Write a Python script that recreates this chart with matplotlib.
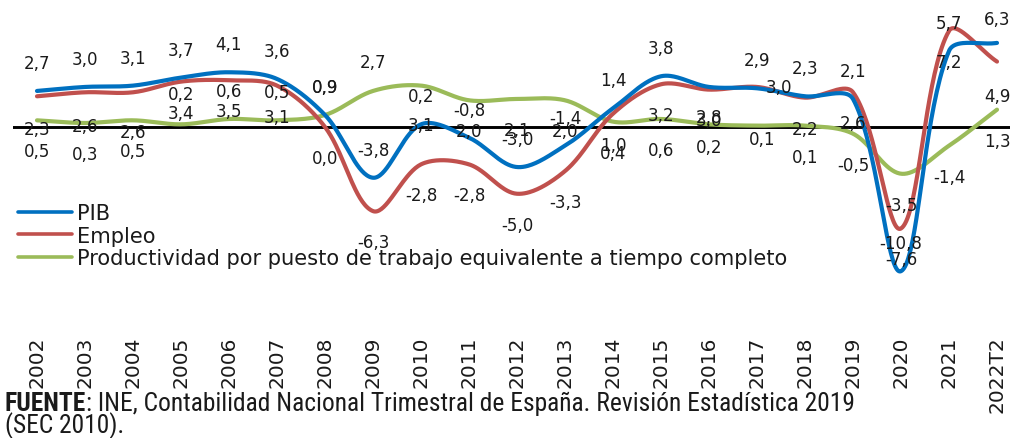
import matplotlib
matplotlib.use('Agg')
import matplotlib.pyplot as plt
from matplotlib import font_manager
from matplotlib.lines import Line2D
import numpy as np

# ---------------- data ----------------
years = ['2002', '2003', '2004', '2005', '2006', '2007', '2008', '2009', '2010',
         '2011', '2012', '2013', '2014', '2015', '2016', '2017', '2018', '2019',
         '2020', '2021', '2022T2']
pib = [2.7, 3.0, 3.1, 3.7, 4.1, 3.6, 0.9, -3.8, 0.2, -0.8, -3.0, -1.4, 1.4, 3.8,
       3.0, 2.9, 2.3, 2.1, -10.8, 5.7, 6.3]
empleo = [2.3, 2.6, 2.6, 3.4, 3.5, 3.1, 0.0, -6.3, -2.8, -2.8, -5.0, -3.3, 1.0, 3.2,
          2.8, 3.0, 2.2, 2.6, -7.6, 7.2, 4.9]
productividad = [0.5, 0.3, 0.5, 0.2, 0.6, 0.5, 0.9, 2.7, 3.1, 2.0, 2.1, 2.0, 0.4, 0.6,
                 0.2, 0.1, 0.1, -0.5, -3.5, -1.4, 1.3]
series_names = ['PIB', 'Empleo',
                'Productividad por puesto de trabajo equivalente a tiempo completo']
source_bold = 'FUENTE'
source_rest = ': INE, Contabilidad Nacional Trimestral de España. Revisión Estadística 2019'
source_line2 = '(SEC 2010).'

# ---------------- style ----------------
W, H = 1010, 439
colors = ['#0070C0', '#C0504D', '#9BBB59']
txt_color = '#1a1a1a'
plt.rcParams['font.family'] = ['DejaVu Sans']

# label offsets in pixels (dx, dy; dy>0 = up) -- default per series + exceptions
def offsets(default, exceptions):
    out = [default] * len(years)
    for k, v in exceptions.items():
        out[years.index(k)] = v
    return out

off_pib = offsets((0, 28), {'2016': (0, -33), '2022T2': (0, 24)})
off_emp = offsets((0, -31), {'2004': (0, -40), '2016': (0, -27), '2017': (22, 0),
                             '2022T2': (0, -34), '2002': (0, -33), '2003': (0, -34)})
off_pro = offsets((0, -31), {'2005': (0, 30), '2006': (0, 28), '2007': (0, 28),
                             '2008': (0, 28), '2009': (0, 29), '2010': (0, -39),
                             '2016': (0, -23), '2017': (5, -13)})

fig = plt.figure(figsize=(W / 100, H / 100), dpi=100)
ax_left, ax_right, ax_top, ax_bot = 13, 1010, 0, 328
ax = fig.add_axes([ax_left / W, (H - ax_bot) / H, (ax_right - ax_left) / W,
                   (ax_bot - ax_top) / H])
x0px, step = 37, 48.0
ax.set_xlim((ax_left - x0px) / step, (ax_right - x0px) / step)
zero_px, ppu = 128, 13.35
ax.set_ylim(-(ax_bot - zero_px) / ppu, (zero_px - ax_top) / ppu)
for s in ax.spines.values():
    s.set_visible(False)
ax.set_yticks([])


def excel_smooth(xs, ys, n=40):
    pts = ax.transData.transform(np.column_stack([xs, ys]))
    N = len(pts)
    out = [pts[0]]
    dist = lambda a, b: float(np.hypot(*(b - a)))
    for i in range(N - 1):
        p0 = pts[max(i - 1, 0)]
        p1 = pts[i]
        p2 = pts[i + 1]
        p3 = pts[min(i + 2, N - 1)]
        d01, d12, d23 = dist(p0, p1), dist(p1, p2), dist(p2, p3)
        c1 = p1 + (p2 - p0) * (d12 / (d01 + d12)) / 3.0
        c2 = p2 - (p3 - p1) * (d12 / (d12 + d23)) / 3.0
        t = np.linspace(0, 1, n)[1:, None]
        seg = ((1 - t) ** 3) * p1 + 3 * ((1 - t) ** 2) * t * c1 + \
            3 * (1 - t) * (t ** 2) * c2 + (t ** 3) * p2
        out.extend(seg)
    return ax.transData.inverted().transform(np.array(out))


xs = np.arange(len(years))
ax.axhline(0, color='black', lw=2.1, zorder=1)

series = [pib, empleo, productividad]
offs = [off_pib, off_emp, off_pro]
handles = []
for k in [2, 1, 0]:
    curve = excel_smooth(xs, series[k])
    ax.plot(curve[:, 0], curve[:, 1], color=colors[k], lw=3.0,
            solid_capstyle='round', zorder=2 + (2 - k))
for k in range(3):
    handles.append(Line2D([], [], color=colors[k], lw=2.6, solid_capstyle='round'))

label_fs = 12
for k in range(3):
    for i, v in enumerate(series[k]):
        dx, dy = offs[k][i]
        ax.annotate(f'{v:.1f}'.replace('.', ','), xy=(i, v), xytext=(dx, dy),
                    textcoords='offset pixels', ha='center', va='center',
                    fontsize=label_fs, color=txt_color, zorder=6)

ax.set_xticks(xs)
ax.set_xticklabels(years, rotation=90, fontsize=14.5, color=txt_color)
ax.tick_params(axis='x', length=0, pad=6)

# legend -- fit font size so that long label spans ~716 px
renderer = fig.canvas.get_renderer()
probe = fig.text(0, 0, series_names[2], fontsize=10)
wprobe = probe.get_window_extent(renderer).width
probe.remove()
leg_fs = 10 * 716 / wprobe
fs_px = leg_fs * 100 / 72
leg = fig.legend(handles, series_names, loc='upper left',
                 bbox_to_anchor=(18 / W, 1 - 204 / H), frameon=False,
                 fontsize=leg_fs, handlelength=54 / fs_px, handletextpad=5 / fs_px,
                 labelspacing=0.12, borderpad=0, borderaxespad=0, labelcolor=txt_color)

# source note (condensed font if available)
names = {f.name for f in font_manager.fontManager.ttflist}
cond_kw = None
for nm in ['Liberation Sans Narrow', 'Roboto Condensed', 'Open Sans Condensed',
           'DejaVu Sans Condensed']:
    if nm in names:
        cond_kw = dict(family=nm)
        break
if cond_kw is None:
    if any(f.name == 'DejaVu Sans' and f.stretch == 'condensed'
           for f in font_manager.fontManager.ttflist):
        cond_kw = dict(family='DejaVu Sans', fontstretch='condensed')
    else:
        cond_kw = dict(family='Roboto')

probe1 = fig.text(0, 0, source_bold, fontsize=10, fontweight='bold', **cond_kw)
probe2 = fig.text(0, 0, source_rest, fontsize=10, **cond_kw)
wtot = probe1.get_window_extent(renderer).width + probe2.get_window_extent(renderer).width
probe1.remove(); probe2.remove()
src_fs = 10 * 845 / wtot
t1 = fig.text(5 / W, 1 - 411 / H, source_bold, fontsize=src_fs, fontweight='bold',
              color=txt_color, va='baseline', ha='left', **cond_kw)
w1 = t1.get_window_extent(renderer).width
fig.text((5 + w1) / W, 1 - 411 / H, source_rest, fontsize=src_fs, color=txt_color,
         va='baseline', ha='left', **cond_kw)
fig.text(5 / W, 1 - 433 / H, source_line2, fontsize=src_fs, color=txt_color,
         va='baseline', ha='left', **cond_kw)

fig.savefig('out.png', dpi=100)
